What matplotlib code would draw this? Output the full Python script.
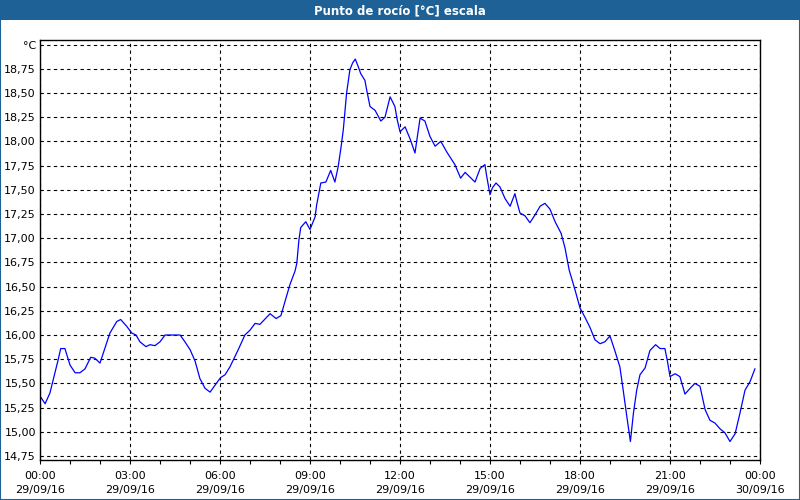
import matplotlib
matplotlib.use("Agg")
import matplotlib.pyplot as plt
from matplotlib.patches import Rectangle
from matplotlib.ticker import FixedLocator, MultipleLocator

# Dew point readings, hours after 00:00 29/09/16
hours = [0.0, 0.17, 0.33, 0.61, 0.69, 0.83, 1.0, 1.17, 1.33, 1.5, 1.69, 1.83, 2.0,
         2.33, 2.56, 2.69, 2.89, 3.06, 3.2, 3.33, 3.53, 3.67, 3.83, 4.0, 4.17, 4.67,
         4.83, 5.0, 5.17, 5.33, 5.5, 5.67, 5.83, 6.02, 6.17, 6.33, 6.61, 6.83, 7.0,
         7.17, 7.33, 7.67, 7.87, 8.03, 8.17, 8.33, 8.5, 8.56, 8.63, 8.69, 8.86, 9.0,
         9.17, 9.22, 9.36, 9.53, 9.69, 9.83, 9.94, 10.03, 10.11, 10.22, 10.33, 10.42,
         10.51, 10.61, 10.69, 10.83, 10.89, 11.0, 11.17, 11.36, 11.5, 11.67, 11.83,
         11.91, 12.0, 12.17, 12.33, 12.5, 12.56, 12.67, 12.83, 13.0, 13.17, 13.36,
         13.56, 13.83, 14.02, 14.17, 14.5, 14.67, 14.83, 14.89, 15.0, 15.08, 15.2,
         15.33, 15.5, 15.67, 15.83, 15.91, 16.0, 16.17, 16.33, 16.5, 16.67, 16.83,
         17.0, 17.17, 17.37, 17.5, 17.64, 17.83, 18.0, 18.17, 18.33, 18.5, 18.67,
         18.83, 19.0, 19.17, 19.33, 19.44, 19.56, 19.68, 19.78, 19.89, 20.0, 20.17,
         20.33, 20.52, 20.67, 20.83, 20.92, 21.0, 21.17, 21.33, 21.5, 21.67, 21.83,
         22.0, 22.17, 22.33, 22.5, 22.67, 22.83, 23.0, 23.17, 23.33, 23.5, 23.67, 23.83]
dew_point = [15.37, 15.29, 15.40, 15.75, 15.86, 15.86, 15.69, 15.61, 15.61, 15.65, 15.77,
             15.76, 15.71, 16.02, 16.14, 16.16, 16.09, 16.02, 16.00, 15.93, 15.88, 15.90,
             15.89, 15.93, 16.00, 16.00, 15.93, 15.85, 15.73, 15.55, 15.45, 15.41, 15.48,
             15.56, 15.59, 15.67, 15.85, 16.00, 16.05, 16.12, 16.11, 16.22, 16.17, 16.20,
             16.35, 16.52, 16.66, 16.74, 16.98, 17.11, 17.17, 17.09, 17.22, 17.34, 17.57,
             17.58, 17.70, 17.58, 17.74, 17.93, 18.12, 18.50, 18.74, 18.81, 18.85, 18.77,
             18.70, 18.63, 18.53, 18.36, 18.32, 18.21, 18.25, 18.46, 18.36, 18.22, 18.10,
             18.15, 18.03, 17.88, 18.01, 18.24, 18.21, 18.05, 17.95, 18.00, 17.89, 17.76,
             17.62, 17.68, 17.58, 17.72, 17.76, 17.64, 17.45, 17.52, 17.57, 17.53, 17.41,
             17.33, 17.46, 17.36, 17.26, 17.23, 17.16, 17.24, 17.33, 17.36, 17.30, 17.17,
             17.05, 16.90, 16.67, 16.47, 16.28, 16.18, 16.08, 15.95, 15.91, 15.93, 15.99,
             15.83, 15.67, 15.43, 15.16, 14.90, 15.19, 15.43, 15.59, 15.66, 15.84, 15.90,
             15.86, 15.86, 15.72, 15.57, 15.60, 15.57, 15.39, 15.45, 15.50, 15.47, 15.23,
             15.12, 15.09, 15.03, 14.99, 14.90, 14.98, 15.19, 15.43, 15.52, 15.65]

x_ticks = [0, 3, 6, 9, 12, 15, 18, 21, 24]
x_labels = ["00:00\n29/09/16", "03:00\n29/09/16", "06:00\n29/09/16", "09:00\n29/09/16",
            "12:00\n29/09/16", "15:00\n29/09/16", "18:00\n29/09/16", "21:00\n29/09/16",
            "00:00\n30/09/16"]
y_ticks = [14.75, 15.0, 15.25, 15.5, 15.75, 16.0, 16.25, 16.5, 16.75, 17.0,
           17.25, 17.5, 17.75, 18.0, 18.25, 18.5, 18.75, 19.0]
y_labels = [f"{v:.2f}".replace(".", ",") for v in y_ticks[:-1]] + ["°C"]

title = "Punto de rocío [°C] escala"
bar_color = "#1d6196"

fig = plt.figure(figsize=(8, 5), dpi=100)
fig.patch.set_facecolor("white")

# title bar and outer frame
fig.patches.append(Rectangle((0, 0.96), 1, 0.04, transform=fig.transFigure,
                             facecolor=bar_color, edgecolor="none", zorder=0))
fig.patches.append(Rectangle((0.0006, 0.001), 0.9988, 0.998, transform=fig.transFigure,
                             facecolor="none", edgecolor=bar_color, lw=1.5, zorder=1))
fig.text(0.5, 0.979, title, color="white", fontweight="bold", fontsize=8.5,
         ha="center", va="center")

ax = fig.add_axes([0.05, 0.08, 0.9, 0.84])
ax.plot(hours, dew_point, color="#0000ff", lw=0.9)

ax.set_xlim(0, 24)
ax.set_ylim(14.709, 19.047)

ax.xaxis.set_major_locator(FixedLocator(x_ticks))
ax.set_xticklabels(x_labels)
ax.xaxis.set_minor_locator(MultipleLocator(1))
ax.tick_params(axis="x", which="both", direction="out", length=3, width=0.8,
               labelsize=8, pad=5)

ax.set_yticks(y_ticks)
ax.set_yticklabels(y_labels)
ax.tick_params(axis="y", length=0, labelsize=8, pad=3)

ax.grid(True, which="major", color="black", linestyle=(0, (3, 3)), lw=0.8)
for s in ax.spines.values():
    s.set_linewidth(1.0)
    s.set_color("black")

for lbl in ax.get_xticklabels():
    lbl.set_linespacing(1.45)

fig.savefig("out.png", dpi=100)
